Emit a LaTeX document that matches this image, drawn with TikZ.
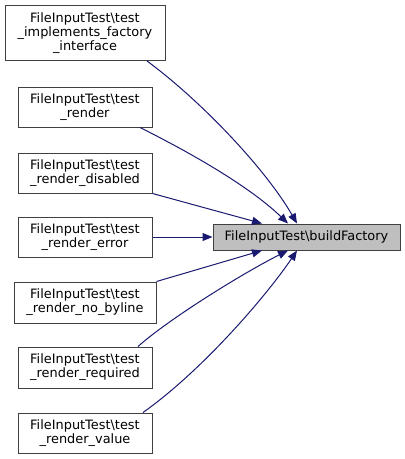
\documentclass[tikz,border=0pt]{standalone}
\usepackage{fontspec}
\setmainfont{DejaVu Sans}
\usetikzlibrary{arrows.meta,calc}
\definecolor{edgeblue}{HTML}{191970}
\definecolor{boxline}{HTML}{404040}
\definecolor{tfill}{HTML}{BFBFBF}
\begin{document}
\begin{tikzpicture}[x=1pt,y=-1pt,
  box/.style={draw=boxline, line width=1pt, fill=white, inner sep=0pt, align=center,
    font=\fontsize{12.9}{14}\selectfont},
  edge/.style={draw=edgeblue, line width=1pt, -{Triangle[length=10pt,width=8pt]}}]
\useasboundingbox (0,0) rectangle (405,459);
\node[box, minimum width=160pt, minimum height=55pt] (n1) at (85,33) {FileInputTest\textbackslash test\\\_implements\_factory\\\_interface};
\node[box, minimum width=134pt, minimum height=40pt] (n2) at (85,107) {FileInputTest\textbackslash test\\\_render};
\node[box, minimum width=134pt, minimum height=40pt] (n3) at (85,173) {FileInputTest\textbackslash test\\\_render\_disabled};
\node[box, minimum width=134pt, minimum height=40pt] (n4) at (85,237) {FileInputTest\textbackslash test\\\_render\_error};
\node[box, minimum width=142pt, minimum height=41pt] (n5) at (85,302.5) {FileInputTest\textbackslash test\\\_render\_no\_byline};
\node[box, minimum width=134pt, minimum height=41pt] (n6) at (85,367.5) {FileInputTest\textbackslash test\\\_render\_required};
\node[box, minimum width=134pt, minimum height=40pt] (n7) at (85,433) {FileInputTest\textbackslash test\\\_render\_value};
\node[box, fill=tfill, minimum width=187pt, minimum height=26pt] (t) at (306.5,237) {FileInputTest\textbackslash buildFactory};
\draw[edge] (n1.south -| 147,0) .. controls (200,100) and (265,168) .. (t.north -| 297,0);
\draw[edge] (n2.south -| 140,0) .. controls (175,145) and (245,182) .. (t.north -| 288,0);
\draw[edge] (n3.south east) -- (t.north -| 262,0);
\draw[edge] (n4.east) -- (t.west);
\draw[edge] (n5.north east) -- (t.south -| 262,0);
\draw[edge] (n6.north -| 138,0) .. controls (170,318) and (245,272) .. (t.south -| 288,0);
\draw[edge] (n7.north -| 143,0) .. controls (203,370) and (267,295) .. (t.south -| 297,0);
\end{tikzpicture}
\end{document}
